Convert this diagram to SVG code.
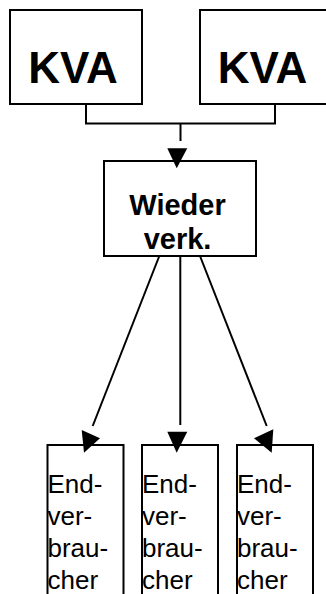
<svg xmlns="http://www.w3.org/2000/svg" width="326" height="594" viewBox="0 0 326 594">
<style>
.box{fill:#fff;stroke:#000;stroke-width:2}
.ln{fill:none;stroke:#000;stroke-width:2}
.ah{fill:#000;stroke:none}
.big{font-family:"Liberation Sans",Arial,sans-serif;font-weight:bold;font-size:44px;fill:#000;text-anchor:middle}
.mid{font-family:"Liberation Sans",Arial,sans-serif;font-weight:bold;font-size:29px;fill:#000;text-anchor:middle}
.sm{font-family:"Liberation Sans",Arial,sans-serif;font-size:26px;fill:#000}
</style>
<rect width="326" height="594" fill="#fff"/>
<g id="kva1">
<rect class="box" x="10" y="10" width="132" height="94"/>
<text class="big" x="73" y="83">KVA</text>
</g>
<g id="kva2">
<rect class="box" x="200" y="10" width="132" height="94"/>
<text class="big" x="262.5" y="83">KVA</text>
</g>
<g id="wieder">
<rect class="box" x="104" y="161" width="152" height="95"/>
<text class="mid" x="177.5" y="215">Wieder</text>
<text class="mid" x="177.5" y="249">verk.</text>
</g>
<g id="end1">
<rect class="box" x="47.5" y="445" width="76" height="160"/>
<text class="sm" x="47.5" y="493">End-</text>
<text class="sm" x="47.5" y="525">ver-</text>
<text class="sm" x="47.5" y="557">brau-</text>
<text class="sm" x="47.5" y="588.5">cher</text>
</g>
<g id="end2">
<rect class="box" x="142" y="445" width="76" height="160"/>
<text class="sm" x="142" y="493">End-</text>
<text class="sm" x="142" y="525">ver-</text>
<text class="sm" x="142" y="557">brau-</text>
<text class="sm" x="142" y="588.5">cher</text>
</g>
<g id="end3">
<rect class="box" x="237" y="445" width="76" height="160"/>
<text class="sm" x="237" y="493">End-</text>
<text class="sm" x="237" y="525">ver-</text>
<text class="sm" x="237" y="557">brau-</text>
<text class="sm" x="237" y="588.5">cher</text>
</g>
<g id="connectors">
<polyline class="ln" points="86,104 86,123.5 275,123.5 275,104"/>
<line class="ln" x1="180.5" y1="123.5" x2="180.5" y2="141"/>
<polygon class="ah" points="167.3,148.3 187.3,148.3 176.7,168.3"/>
<line class="ln" x1="159.3" y1="256" x2="92.7" y2="426"/>
<polygon class="ah" points="81.7,430 100,438.3 84,452.7"/>
<line class="ln" x1="180.3" y1="256" x2="180.3" y2="425"/>
<polygon class="ah" points="167.3,431.7 187.3,431.7 176.7,452.7"/>
<line class="ln" x1="200" y1="256" x2="266.7" y2="426"/>
<polygon class="ah" points="254,438.3 273.3,429.3 271.7,452.7"/>
</g>
</svg>
